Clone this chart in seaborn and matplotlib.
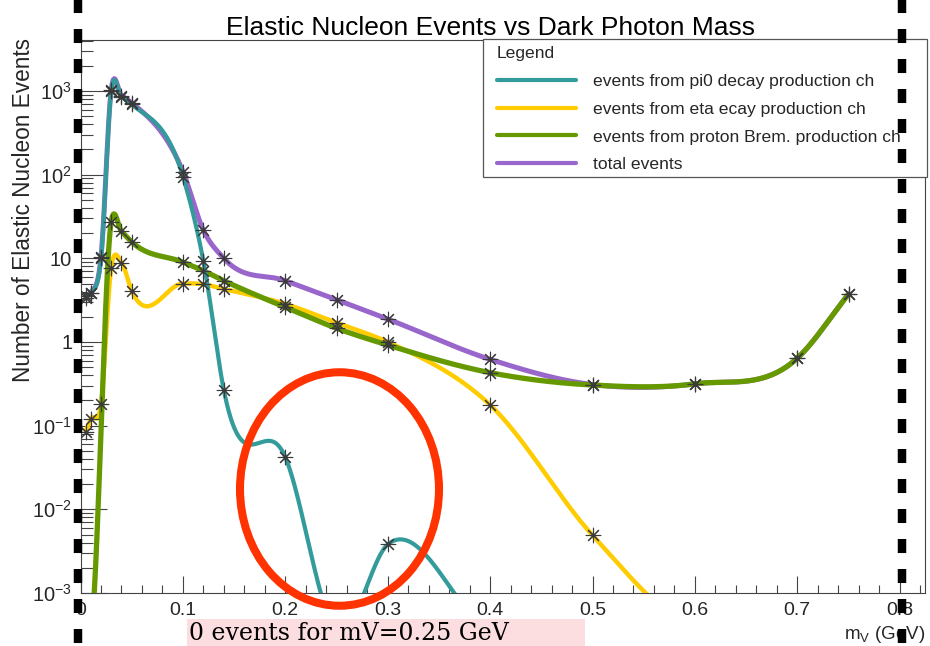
import numpy as np
import matplotlib
matplotlib.use("Agg")
import matplotlib.pyplot as plt
import seaborn as sns
from matplotlib.lines import Line2D
from matplotlib.patches import Ellipse, Rectangle
from matplotlib.ticker import FixedLocator, FixedFormatter, LogLocator, NullFormatter, MultipleLocator

# ---------------- data ----------------
pi0_mass = [0.005, 0.01, 0.02, 0.03, 0.04, 0.05, 0.1, 0.12, 0.14, 0.2, 0.25, 0.3, 0.4, 0.5]
pi0_events = [3.4, 3.8, 10.0, 1000, 850, 690, 95, 9.3, 0.265, 0.042, 0.0, 0.0038, 0.0, 0.0]

eta_mass = [0.005, 0.01, 0.02, 0.03, 0.04, 0.05, 0.1, 0.12, 0.14, 0.2, 0.25, 0.3, 0.4, 0.5, 0.6, 0.7]
eta_events = [0.085, 0.12, 0.18, 7.7, 8.9, 4.1, 5.0, 4.9, 4.3, 2.85, 1.7, 1.0, 0.177, 0.0049, 0.0, 0.0]

brem_mass = [0.005, 0.01, 0.03, 0.04, 0.05, 0.1, 0.12, 0.14, 0.2, 0.25, 0.3, 0.4, 0.5, 0.6, 0.7, 0.75]
brem_events = [0.0, 0.0, 27.5, 21.0, 15.7, 9.0, 7.1, 5.4, 2.6, 1.46, 0.92, 0.43, 0.306, 0.316, 0.64, 3.74]

total_mass = [0.005, 0.01, 0.02, 0.03, 0.04, 0.05, 0.1, 0.12, 0.14, 0.2, 0.25, 0.3, 0.4, 0.5, 0.6, 0.7, 0.75]
total_events = [3.5, 3.9, 10.3, 1035, 880, 720, 109, 21.7, 10.0, 5.4, 3.2, 1.88, 0.62, 0.31, 0.316, 0.64, 3.74]

series_labels = ["events from pi0 decay production ch",
                 "events from eta ecay production ch",
                 "events from proton Brem. production ch",
                 "total events"]

x_tick_values = [0.0, 0.1, 0.2, 0.3, 0.4, 0.5, 0.6, 0.7, 0.8]
x_tick_labels = ["0", "0.1", "0.2", "0.3", "0.4", "0.5", "0.6", "0.7", "0.8"]
y_tick_values = [1e-3, 1e-2, 1e-1, 1, 10, 1e2, 1e3]
y_tick_labels = [r"$10^{-3}$", r"$10^{-2}$", r"$10^{-1}$", "1", "10", r"$10^{2}$", r"$10^{3}$"]

title_text = "Elastic Nucleon Events vs Dark Photon Mass"
ylabel_text = "Number of Elastic Nucleon Events"
xlabel_text = r"m$_{V}$ (GeV)"
note_text = "0 events for mV=0.25 GeV"

# ---------------- style ----------------
sns.set_style("ticks")
plt.rcParams["font.family"] = ["Liberation Sans", "DejaVu Sans"]
plt.rcParams["mathtext.fontset"] = "custom"
plt.rcParams["mathtext.rm"] = "Liberation Sans"
plt.rcParams["mathtext.it"] = "Liberation Sans:italic"
plt.rcParams["mathtext.default"] = "regular"

W, H = 930, 646
fig = plt.figure(figsize=(W / 100, H / 100), dpi=100)
fig.patch.set_facecolor("white")

ax_l, ax_r, ax_t, ax_b = 80.5, 925, 39.5, 593
PX_PER_X = 1024.0      # pixels per unit of mass on the x axis
PX_PER_DEC = 83.67     # pixels per decade on the y axis
ax = fig.add_axes([ax_l / W, 1 - ax_b / H, (ax_r - ax_l) / W, (ax_b - ax_t) / H])
ax.set_facecolor("white")


def smooth_curve(xv, yv, floor_log=-3.45, per_seg=80):
    """Smooth C1 cubic Hermite curve through the points in log10(y) (three-point tangents).
    Zero counts cannot be shown on a log axis and are pinned just below the frame."""
    x = np.asarray(xv, float)
    y = np.log10(np.clip(np.asarray(yv, float), 10 ** floor_log, None))
    h = np.diff(x)
    dl = np.diff(y) / h
    d = np.empty_like(y)
    d[0], d[-1] = dl[0], dl[-1]
    d[1:-1] = (h[1:] * dl[:-1] + h[:-1] * dl[1:]) / (h[:-1] + h[1:])
    t = np.linspace(0, 1, per_seg)
    h00 = 2 * t ** 3 - 3 * t ** 2 + 1
    h10 = t ** 3 - 2 * t ** 2 + t
    h01 = -2 * t ** 3 + 3 * t ** 2
    h11 = t ** 3 - t ** 2
    xs, ys = [], []
    for i in range(len(h)):
        xs.append(x[i] + t * h[i])
        ys.append(h00 * y[i] + h10 * h[i] * d[i] + h01 * y[i + 1] + h11 * h[i] * d[i + 1])
    return np.concatenate(xs), 10 ** np.concatenate(ys)


c_pi0, c_eta, c_brem, c_tot = "#349b9b", "#ffcc00", "#669900", "#9966cc"

series = [
    (total_mass, total_events, c_tot, 3.6, 2, series_labels[3]),
    (eta_mass, eta_events, c_eta, 3.2, 3, series_labels[1]),
    (brem_mass, brem_events, c_brem, 3.8, 4, series_labels[2]),
    (pi0_mass, pi0_events, c_pi0, 3.0, 5, series_labels[0]),
]
handles = {}
for xv, yv, col, lw, z, lab in series:
    xs, ys = smooth_curve(xv, yv)
    sns.lineplot(x=xs, y=ys, ax=ax, color=col, lw=lw, sort=False, estimator=None,
                 legend=False, zorder=z, label=lab)
    handles[lab] = Line2D([], [], color=col, lw=3.0)

for xv, yv, col, lw, z, lab in series:
    xa = np.asarray(xv, float)
    ya = np.asarray(yv, float)
    pos = ya > 0
    sns.scatterplot(x=xa[pos], y=ya[pos], ax=ax, marker=(8, 2, 0), s=110, color="#3a3a3a",
                    linewidth=0.8, zorder=8, legend=False)

ax.set_yscale("log")
ax.set_xlim(0, (ax_r - ax_l) / PX_PER_X)
ax.set_ylim(1e-3, 10 ** (-3 + (ax_b - ax_t) / PX_PER_DEC))

ax.xaxis.set_major_locator(FixedLocator(x_tick_values))
ax.xaxis.set_major_formatter(FixedFormatter(x_tick_labels))
ax.xaxis.set_minor_locator(MultipleLocator(0.02))
ax.yaxis.set_major_locator(FixedLocator(y_tick_values))
ax.yaxis.set_major_formatter(FixedFormatter(y_tick_labels))
ax.yaxis.set_minor_locator(LogLocator(base=10, subs=np.arange(2, 10), numticks=30))
ax.yaxis.set_minor_formatter(NullFormatter())

ax.tick_params(axis="x", which="major", direction="in", length=12.2, width=0.8, color="#444444",
               labelsize=14, pad=6.5, top=False)
ax.tick_params(axis="x", which="minor", direction="in", length=5.8, width=0.8, color="#444444", top=False)
ax.tick_params(axis="y", which="major", direction="in", length=18.7, width=0.8, color="#444444",
               labelsize=14.5, pad=6, right=False)
ax.tick_params(axis="y", which="minor", direction="in", length=8.6, width=0.8, color="#444444", right=False)
for sp in ax.spines.values():
    sp.set_visible(True)
    sp.set_color("#444444")
    sp.set_linewidth(0.8)
ax.set_xlabel("")
ax.set_ylabel("")

# titles / labels
fig.text(490 / W, 1 - 35 / H, title_text, ha="center", va="baseline", fontsize=19.0, color="black")
fig.text(24 / W, 1 - 210 / H, ylabel_text, rotation=90, ha="center", va="center", fontsize=16.3)
fig.text(925 / W, 1 - 639 / H, xlabel_text, ha="right", va="baseline", fontsize=13.5)

# legend box + legend
fig.add_artist(Rectangle((483 / W, 1 - 177 / H), 444 / W, 138 / H, transform=fig.transFigure,
                         facecolor="white", edgecolor="#555555", lw=0.9, zorder=5))
leg = fig.legend([handles[l] for l in series_labels], series_labels, loc="upper left",
                 bbox_to_anchor=(497 / W, 1 - 46 / H), bbox_transform=fig.transFigure,
                 borderaxespad=0, borderpad=0, frameon=False, title="Legend",
                 alignment="left", fontsize=12.6, title_fontsize=12.6,
                 handlelength=4.5, handletextpad=0.97, labelspacing=0.72)
leg.set_zorder(6)

# annotation overlay: pink note box, red ellipse, dashed black guides
fig.add_artist(Rectangle((187 / W, 0), (585 - 187) / W, (H - 619) / H, transform=fig.transFigure,
                         facecolor="#fcdde0", edgecolor="none", zorder=10))
fig.text(189 / W, 1 - 640 / H, note_text, ha="left", va="baseline", fontsize=17,
         family=["DejaVu Serif"], color="black", zorder=11)
fig.add_artist(Ellipse((339.5 / W, 1 - 489 / H), 199 / W, 233.5 / H, transform=fig.transFigure,
                       fill=False, edgecolor="#ff3300", lw=5.8, zorder=15))
lw_d = 6.1
for xc in (77.5, 902):
    fig.add_artist(Line2D([xc / W, xc / W], [1 + 2 / H, 0], transform=fig.transFigure,
                          color="black", lw=lw_d, dashes=(10.1 / lw_d, 11.5 / lw_d),
                          dash_capstyle="butt", zorder=20))

fig.savefig("out.png", dpi=100)
